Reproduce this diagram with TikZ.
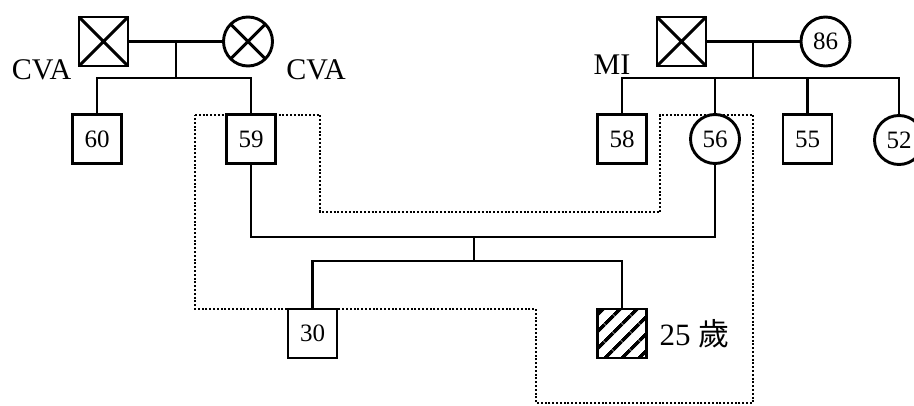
\documentclass[tikz,border=0pt]{standalone}
\usepackage{fontspec}
\setmainfont{Liberation Serif}
\newfontfamily\cjk{Noto Sans CJK TC}
\usetikzlibrary{positioning,patterns.meta}

\begin{document}
\begin{tikzpicture}[x=0.5pt,y=-0.5pt,
  every node/.style={font=\fontsize{12.5}{14}\selectfont,inner sep=0pt,outer sep=0pt},
  line/.style={line width=1.45pt},
  male/.style={draw,line width=1.45pt,fill=white,minimum size=24.5pt},
  female/.style={draw,circle,line width=1.45pt,fill=white,minimum size=24.5pt},
  tag/.style={font=\fontsize{15}{18}\selectfont}]
\useasboundingbox (0,0) rectangle (914,406);

% dotted outline round the couple's families
\draw[line width=1.2pt,dash pattern=on 1pt off 0.9pt]
  (195,115) -- (320,115) -- (320,212) -- (660,212) -- (660,115) -- (753,115)
  -- (753,403) -- (536,403) -- (536,309) -- (195,309) -- cycle;

% first generation
\node[male] (gfL) at (103.5,41.5) {};
\node[female] (gmL) at (248,41.5) {};
\node[male] (gfR) at (681.5,41.5) {};
\node[female] (gmR) at (825.5,41.5) {86};
\foreach \n in {gfL,gmL,gfR}
  \draw[line] (\n.north west) -- (\n.south east) (\n.north east) -- (\n.south west);

\node[tag] (cvaL) at (41.5,70) {CVA};
\node[tag] (cvaR) at (316,70) {CVA};
\node[tag] (mi) at (612,65) {MI};

% second generation
\node[male] (c60) at (97,139) {60};
\node[male] (c59) at (251,139) {59};
\node[male] (c58) at (622,139) {58};
\node[female] (c56) at (715,139) {56};
\node[male] (c55) at (807.5,139) {55};
\node[female] (c52) at (899,140) {52};

% third generation
\node[male] (c30) at (312.5,333.5) {30};
\node[male,pattern={Lines[angle=45,distance=6.5pt,line width=1.9pt]}] (p25) at (622,333.5) {};
\node[font=\fontsize{15.5}{18}\selectfont,right=6.5pt of p25] (age) {25 {\cjk 歲}};

\coordinate (mL) at (176,41.5);
\coordinate (sL) at (176,78);
\coordinate (mR) at (753,41.5);
\coordinate (sR) at (753,78);
\coordinate (mC) at (474,237);
\coordinate (sC) at (474,261);

\draw[line] (gfL) -- (gmL);
\draw[line] (mL) -- (sL);
\draw[line] (c60.north) |- (sL) -| (c59.north);

\draw[line] (gfR) -- (gmR);
\draw[line] (mR) -- (sR);
\draw[line] (c58.north) |- (sR) -| (c52.north);
\draw[line] (c56.north) -- (c56.north |- sR);
\draw[line] (c55.north) -- (c55.north |- sR);

\draw[line] (c59.south) |- (mC) -| (c56.south);
\draw[line] (mC) -- (sC);
\draw[line] (c30.north) |- (sC) -| (p25.north);
\end{tikzpicture}
\end{document}
